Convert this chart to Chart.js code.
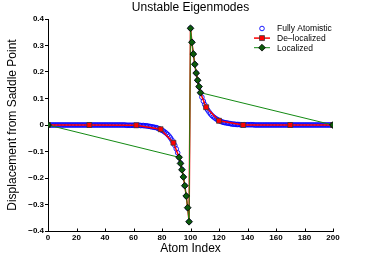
<!DOCTYPE html>
<html>
<head>
<meta charset="utf-8">
<title>Unstable Eigenmodes</title>
<script src="https://cdn.jsdelivr.net/npm/chart.js@4/dist/chart.umd.min.js"></script>
<style>
  html, body { margin: 0; padding: 0; background: #fff; }
  #chart { display: block; }
</style>
</head>
<body>
<canvas id="chart" width="368" height="260"></canvas>
<script>
// displacement of every atom 0..200, fully atomistic solution
const atomisticY = [
  0, 0, 0, 0, 0, 0, 0, 0, 0, 0,
  0, 0, 0, 0, 0, 0, 0, 0, 0, 0,
  0, 0, 0, 0, 0, 0, 0, 0, 0, 0,
  0, 0, 0, 0, 0, 0, 0, 0, 0, 0,
  0, 0, 0, 0, 0, 0, 0, 0, 0, 0,
  0, 0, 0, 0, 0, -0.001, -0.001, -0.001, -0.001, -0.001,
  -0.001, -0.001, -0.001, -0.001, -0.001, -0.002, -0.002, -0.002, -0.003, -0.003,
  -0.004, -0.005, -0.006, -0.007, -0.008, -0.009, -0.010, -0.012, -0.014, -0.017,
  -0.020, -0.023, -0.027, -0.031, -0.036, -0.042, -0.049, -0.057, -0.066, -0.077,
  -0.090, -0.105, -0.122, -0.144, -0.168, -0.196, -0.229, -0.268, -0.313, -0.365,
  0.365, 0.313, 0.268, 0.229, 0.196, 0.168, 0.144, 0.122, 0.105, 0.090,
  0.077, 0.066, 0.057, 0.049, 0.042, 0.036, 0.031, 0.027, 0.023, 0.020,
  0.017, 0.014, 0.012, 0.010, 0.009, 0.008, 0.007, 0.006, 0.005, 0.004,
  0.003, 0.003, 0.002, 0.002, 0.002, 0.001, 0.001, 0.001, 0.001, 0.001,
  0.001, 0.001, 0.001, 0.001, 0.001, 0, 0, 0, 0, 0,
  0, 0, 0, 0, 0, 0, 0, 0, 0, 0,
  0, 0, 0, 0, 0, 0, 0, 0, 0, 0,
  0, 0, 0, 0, 0, 0, 0, 0, 0, 0,
  0, 0, 0, 0, 0, 0, 0, 0, 0, 0,
  0, 0, 0, 0, 0, 0, 0, 0, 0, 0,
  0
];

// de-localized model (markers only on the coarse nodes)
const delocX = [0, 29, 62, 79, 88, 92, 93, 94, 95, 96, 97, 98, 99,
  100, 101, 102, 103, 104, 105, 106, 107, 111, 120, 137, 170, 200];
const delocY = [0, 0, -0.001, -0.016, -0.067, -0.122, -0.145, -0.169, -0.196, -0.229, -0.268, -0.312, -0.365,
  0.365, 0.312, 0.268, 0.229, 0.196, 0.169, 0.145, 0.122, 0.067, 0.016, 0, 0, 0];

// localized model
const localX = [0, 92, 93, 94, 95, 96, 97, 98, 99, 100, 101, 102, 103, 104, 105, 106, 107, 200];
const localY = [0, -0.122, -0.145, -0.169, -0.196, -0.229, -0.268, -0.312, -0.365,
  0.365, 0.312, 0.268, 0.229, 0.196, 0.169, 0.145, 0.122, 0];

const xTicks = [0, 20, 40, 60, 80, 100, 120, 140, 160, 180, 200];
const yTicks = [-0.4, -0.3, -0.2, -0.1, 0, 0.1, 0.2, 0.3, 0.4];
const yTickLabels = ['\u22120.4', '\u22120.3', '\u22120.2', '\u22120.1', '0', '0.1', '0.2', '0.3', '0.4'];

const FONT = "'Liberation Sans', Arial, Helvetica, sans-serif";
Chart.defaults.font.family = FONT;
Chart.defaults.color = '#000';

const toPoints = (xs, ys) => ys.map((y, i) => ({ x: xs ? xs[i] : i, y }));

const styles = {
  atom: { pointStyle: 'circle', radius: 2.3, bg: 'rgba(0,0,0,0)', border: '#0000ff', borderWidth: 0.9 },
  deloc: { pointStyle: 'rect', radius: 3.5, bg: '#ff0000', border: '#3a3a3a', borderWidth: 0.8, line: '#ff0000', lineWidth: 1.5 },
  local: { pointStyle: 'rectRot', radius: 3.4, bg: '#0b5a0b', border: '#000000', borderWidth: 0.8, line: '#138a13', lineWidth: 1 }
};

// title drawn centred over the axes, like the original figure
const titlePlugin = {
  id: 'axesTitle',
  afterDraw(chart) {
    const { ctx, chartArea } = chart;
    ctx.save();
    ctx.font = '12px ' + FONT;
    ctx.fillStyle = '#000';
    ctx.textAlign = 'center';
    ctx.textBaseline = 'middle';
    ctx.fillText('Unstable Eigenmodes', (chartArea.left + chartArea.right) / 2, 8);
    ctx.restore();
  }
};

// small inward tick marks on the x axis
const xTickMarks = {
  id: 'xTickMarks',
  afterDraw(chart) {
    const { ctx, chartArea } = chart;
    const sx = chart.scales.x;
    ctx.save();
    ctx.strokeStyle = '#000';
    ctx.lineWidth = 1;
    ctx.beginPath();
    xTicks.forEach((v) => {
      const px = Math.round(sx.getPixelForValue(v)) + 0.5;
      ctx.moveTo(px, chartArea.bottom);
      ctx.lineTo(px, chartArea.bottom - 2.5);
    });
    ctx.stroke();
    ctx.restore();
  }
};

// legend in the upper right corner with line + marker samples
const legendPlugin = {
  id: 'boxLegend',
  afterDatasetsDraw(chart) {
    const { ctx } = chart;
    const entries = [
      { label: 'Fully Atomistic', s: styles.atom },
      { label: 'De\u2013localized', s: styles.deloc },
      { label: 'Localized', s: styles.local }
    ];
    ctx.save();
    ctx.font = '8.5px ' + FONT;
    ctx.textAlign = 'left';
    ctx.textBaseline = 'middle';
    entries.forEach((e, i) => {
      const y = 28.5 + i * 9.6;
      if (e.s.line) {
        ctx.strokeStyle = e.s.line;
        ctx.lineWidth = e.s.lineWidth;
        ctx.beginPath();
        ctx.moveTo(254, y);
        ctx.lineTo(270, y);
        ctx.stroke();
      }
      ctx.fillStyle = e.s.bg;
      ctx.strokeStyle = e.s.border;
      ctx.lineWidth = e.s.borderWidth;
      Chart.helpers.drawPoint(ctx, { pointStyle: e.s.pointStyle, radius: e.s.radius, borderWidth: e.s.borderWidth, rotation: 0 }, 262, y);
      ctx.fillStyle = '#000';
      ctx.fillText(e.label, 277, y + 0.5);
    });
    ctx.restore();
  }
};

new Chart(document.getElementById('chart'), {
  type: 'scatter',
  data: {
    datasets: [
      {
        label: 'Localized',
        data: toPoints(localX, localY),
        showLine: true,
        borderColor: styles.local.line,
        borderWidth: styles.local.lineWidth,
        pointStyle: styles.local.pointStyle,
        pointRadius: styles.local.radius,
        pointBackgroundColor: styles.local.bg,
        pointBorderColor: styles.local.border,
        pointBorderWidth: styles.local.borderWidth
      },
      {
        label: 'De\u2013localized',
        data: toPoints(delocX, delocY),
        showLine: true,
        borderColor: styles.deloc.line,
        borderWidth: styles.deloc.lineWidth,
        pointStyle: styles.deloc.pointStyle,
        pointRadius: (c) => {
          const x = c.raw ? c.raw.x : 0;
          return (x > 90 && x < 110) ? 0 : styles.deloc.radius;
        },
        pointBackgroundColor: styles.deloc.bg,
        pointBorderColor: styles.deloc.border,
        pointBorderWidth: styles.deloc.borderWidth
      },
      {
        label: 'Fully Atomistic',
        data: toPoints(null, atomisticY),
        showLine: false,
        pointStyle: styles.atom.pointStyle,
        pointRadius: styles.atom.radius,
        pointBackgroundColor: styles.atom.bg,
        pointBorderColor: styles.atom.border,
        pointBorderWidth: styles.atom.borderWidth
      }
    ]
  },
  options: {
    responsive: false,
    animation: false,
    events: [],
    layout: { padding: { top: 19, right: 35, left: 0, bottom: 0 } },
    plugins: {
      legend: { display: false },
      title: { display: false },
      tooltip: { enabled: false }
    },
    scales: {
      x: {
        type: 'linear',
        min: 0,
        max: 200,
        afterBuildTicks: (s) => { s.ticks = xTicks.map((v) => ({ value: v })); },
        afterFit: (s) => { s.height = 29; },
        ticks: {
          autoSkip: false,
          maxRotation: 0,
          padding: 2,
          font: { size: 8, weight: 'bold' },
          color: '#000',
          callback: (v) => String(v)
        },
        grid: { drawOnChartArea: false, drawTicks: false },
        border: { display: true, color: '#000', width: 1 },
        title: {
          display: true,
          text: 'Atom Index',
          font: { size: 12 },
          color: '#000',
          padding: { top: 0, bottom: 4 }
        }
      },
      y: {
        min: -0.4,
        max: 0.4,
        afterBuildTicks: (s) => { s.ticks = yTicks.map((v) => ({ value: v })); },
        afterFit: (s) => { s.width = 48; },
        ticks: {
          autoSkip: false,
          padding: 1,
          font: { size: 8, weight: 'bold' },
          color: '#000',
          callback: (v, i) => yTickLabels[i]
        },
        grid: { drawOnChartArea: false, drawTicks: true, tickLength: 3, color: '#000' },
        border: { display: true, color: '#000', width: 1 },
        title: {
          display: true,
          text: 'Displacement from Saddle Point',
          font: { size: 12 },
          color: '#000',
          padding: { top: 5, bottom: 0 }
        }
      }
    }
  },
  plugins: [titlePlugin, xTickMarks, legendPlugin]
});
</script>
</body>
</html>
